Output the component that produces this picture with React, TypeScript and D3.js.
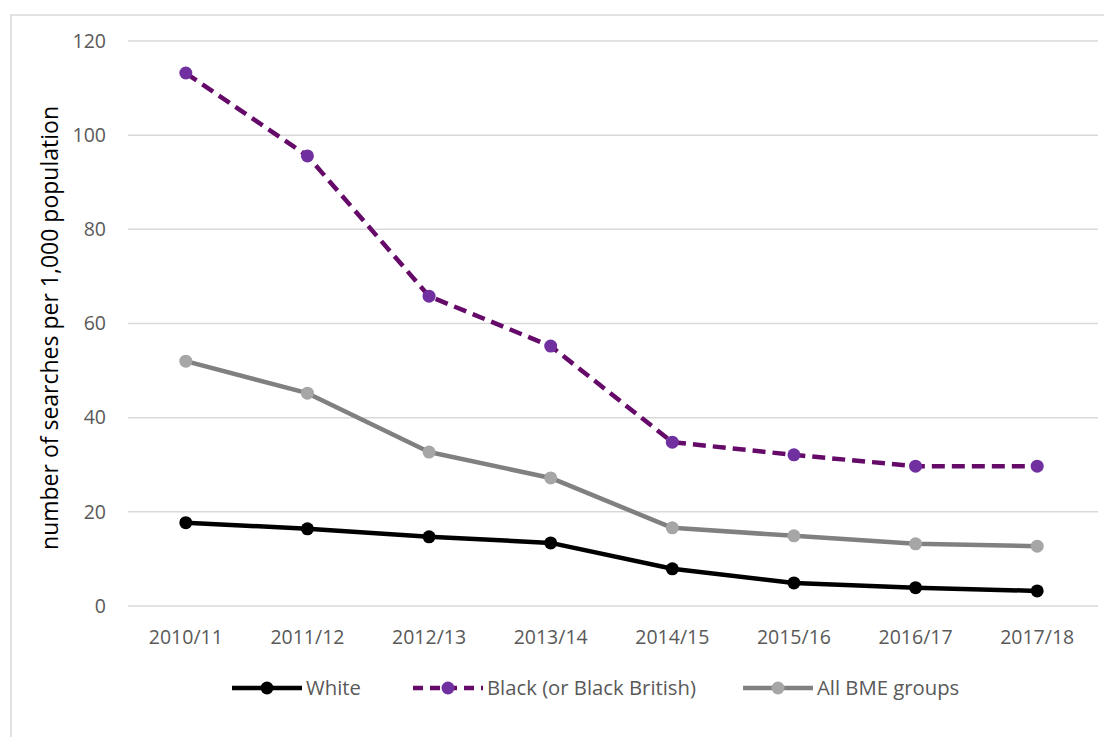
import React from "react";
import * as d3 from "d3";

const categories = ["2010/11", "2011/12", "2012/13", "2013/14", "2014/15", "2015/16", "2016/17", "2017/18"];
const whiteValues = [17.7, 16.4, 14.7, 13.4, 7.9, 4.9, 3.9, 3.2];
const blackValues = [113.2, 95.6, 65.8, 55.2, 34.8, 32.1, 29.7, 29.7];
const bmeValues = [52.0, 45.2, 32.7, 27.2, 16.6, 14.9, 13.2, 12.7];
const yTicks = [0, 20, 40, 60, 80, 100, 120];
const yTitle = "number of searches per 1,000 population";

const series = [
  { name: "White", values: whiteValues, line: "#000000", marker: "#000000", dash: "" },
  { name: "Black (or Black British)", values: blackValues, line: "#660a6a", marker: "#7030a0", dash: "13,7" },
  { name: "All BME groups", values: bmeValues, line: "#808080", marker: "#a6a6a6", dash: "" },
];

const FONT = "'Open Sans', 'Liberation Sans', sans-serif";

export default function App() {
  const W = 1104, H = 737;
  const left = 125, right = 1098, top = 41, bottom = 606;
  const x = d3.scaleBand<string>().domain(categories).range([left, right]);
  const y = d3.scaleLinear().domain([0, 120]).range([bottom, top]);
  const cx = (c: string) => (x(c) as number) + x.bandwidth() / 2;
  const line = d3.line<number>().x((_, i) => cx(categories[i])).y((v) => y(v));

  const legendItems = [
    { s: series[0], x0: 232, tx: 306 },
    { s: series[1], x0: 413, tx: 487 },
    { s: series[2], x0: 743, tx: 817 },
  ];
  const legendY = 688;

  return (
    <svg width={W} height={H} style={{ position: "absolute", left: 0, top: 0, background: "#fff" }}>
      <rect x={11} y={15} width={1120} height={760} fill="#fff" stroke="#d9d9d9" strokeWidth={1.5} />
      {yTicks.map((t) => (
        <g key={t}>
          <line x1={left + 3} x2={right} y1={y(t)} y2={y(t)} stroke="#d9d9d9" strokeWidth={1.5} />
          <text x={106} y={y(t)} dy="0.35em" textAnchor="end" fontFamily={FONT} fontSize={19.5} fill="#595959">
            {t}
          </text>
        </g>
      ))}
      {categories.map((c) => (
        <text key={c} x={cx(c)} y={637} dy="0.35em" textAnchor="middle" fontFamily={FONT} fontSize={19.5} fill="#595959">
          {c}
        </text>
      ))}
      <text
        transform={`translate(50, 328) rotate(-90)`}
        textAnchor="middle"
        dy="0.35em"
        fontFamily={FONT}
        fontSize={23}
        fill="#000"
      >
        {yTitle}
      </text>
      {series.map((s) => (
        <g key={s.name}>
          <path d={line(s.values) || ""} fill="none" stroke={s.line} strokeWidth={4.5} strokeDasharray={s.dash || undefined} strokeLinejoin="round" />
          {s.values.map((v, i) => (
            <circle key={i} cx={cx(categories[i])} cy={y(v)} r={6.5} fill={s.marker} />
          ))}
        </g>
      ))}
      {legendItems.map(({ s, x0, tx }) => (
        <g key={s.name}>
          <line x1={x0} x2={x0 + 70} y1={legendY} y2={legendY} stroke={s.line} strokeWidth={4.5} strokeDasharray={s.dash ? "10,7" : undefined} />
          <circle cx={x0 + 35} cy={legendY} r={6.5} fill={s.marker} />
          <text x={tx} y={legendY} dy="0.35em" fontFamily={FONT} fontSize={20.3} fill="#595959">
            {s.name}
          </text>
        </g>
      ))}
    </svg>
  );
}
